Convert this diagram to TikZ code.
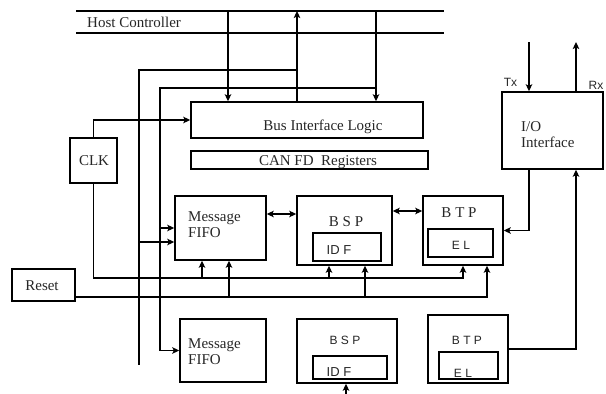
\documentclass[tikz,border=0pt]{standalone}
\usepackage{fontspec}
\setmainfont{Liberation Serif}
\newfontfamily\arialfam{Liberation Sans}
\usetikzlibrary{arrows.meta}
\begin{document}
\begin{tikzpicture}[x=1pt,y=-1pt,
  box/.style={draw,line width=1.5pt,inner sep=0pt},
  lbl/.style={inner sep=0pt,text=black!85,font=\fontsize{15}{16}\selectfont},
  slbl/.style={inner sep=0pt,text=black!85,font=\arialfam\fontsize{12}{14}\selectfont},
  wire/.style={line width=1.5pt},
  arr/.style={wire,-{Stealth[length=7pt,width=6.5pt,inset=1.5pt]}},
  darr/.style={wire,{Stealth[length=7pt,width=6.5pt,inset=1.5pt]}-{Stealth[length=7pt,width=6.5pt,inset=1.5pt]}}]
\useasboundingbox (0,0) rectangle (606,394);

% boxes
\node[box,minimum width=47pt,minimum height=45pt] (clk) at (93.5,160.5) {};
\node[box,minimum width=63pt,minimum height=32pt] (reset) at (43.5,285) {};
\node[box,minimum width=232pt,minimum height=36pt] (bil) at (307,120) {};
\node[box,minimum width=237pt,minimum height=18pt] (can) at (309.5,160) {};
\node[box,minimum width=91pt,minimum height=64pt] (fifo1) at (220.5,228) {};
\node[box,minimum width=95pt,minimum height=69pt] (bsp1) at (344.5,230.5) {};
\node[box,minimum width=68pt,minimum height=28pt] (idf1) at (347,247) {};
\node[box,minimum width=80pt,minimum height=69pt] (btp1) at (463,230.5) {};
\node[box,minimum width=65pt,minimum height=28pt] (el1) at (460.5,243) {};
\node[box,minimum width=101pt,minimum height=77pt] (io) at (552.5,130.5) {};
\node[box,minimum width=86pt,minimum height=63pt] (fifo2) at (223,350.5) {};
\node[box,minimum width=100pt,minimum height=64pt] (bsp2) at (347,351) {};
\node[box,minimum width=74pt,minimum height=23pt] (idf2) at (350,367.5) {};
\node[box,minimum width=80pt,minimum height=68pt] (btp2) at (468,349) {};
\node[box,minimum width=59pt,minimum height=27pt] (el2) at (468.5,365.5) {};

% texts
\node[lbl,anchor=west] (thc) at (87,22) {Host Controller};
\node[lbl] (tclk) at (94,161) {CLK};
\node[lbl] (treset) at (42,286) {Reset};
\node[lbl] (tbil) at (323,127) {Bus Interface Logic};
\node[lbl] (tcan) at (318,162) {CAN FD\ \ Registers};
\node[lbl,anchor=west,align=left] (tfifo1) at (188,225) {Message\\FIFO};
\node[lbl,anchor=west,align=left] (tfifo2) at (188,351.5) {Message\\FIFO};
\node[lbl] (tbsp1) at (346,222) {B S P};
\node[slbl,font=\arialfam\fontsize{13}{14}\selectfont] (tidf1) at (339,250) {ID F};
\node[lbl] (tbtp1) at (459,213) {B T P};
\node[slbl] (tel1) at (461,245) {E L};
\node[slbl] (tbsp2) at (345,340) {B S P};
\node[slbl,font=\arialfam\fontsize{13}{14}\selectfont] (tidf2) at (339,372) {ID F};
\node[slbl] (tbtp2) at (467,340) {B T P};
\node[slbl] (tel2) at (463,373) {E L};
\node[lbl,anchor=west,align=left] (tio) at (521,135) {I/O\\Interface};
\node[slbl] (ttx) at (510.5,82) {Tx};
\node[slbl] (trx) at (596,85) {Rx};

% host controller bus
\coordinate (hbTL) at (76,11);
\coordinate (hbTR) at (444,11);
\coordinate (hbBL) at (76,33);
\coordinate (hbBR) at (444,33);
\draw[wire] (hbTL) -- (hbTR);
\draw[wire] (hbBL) -- (hbBR);

\coordinate (h1) at (228,11);
\coordinate (h2) at (297,11);
\coordinate (h3) at (376,11);
\draw[arr] (h1) -- (h1 |- bil.north);
\draw[arr] (h2 |- bil.north) -- (h2);
\draw[arr] (h3) -- (h3 |- bil.north);

% vertical feeds
\coordinate (v1) at (139,70);
\coordinate (v1end) at (139,365);
\coordinate (v2) at (160,88);
\draw[wire] (h2 |- v1) -- (v1) -- (v1end);
\draw[arr] (h3 |- v2) -- (v2) |- (fifo2.west);
\draw[arr] (fifo1.west -| v2) -- (fifo1.west);
\draw[arr] ([yshift=-14pt]fifo1.west -| v1) -- ([yshift=-14pt]fifo1.west);

% clock
\draw[arr] (clk.north) |- (bil.west);
\coordinate (c1) at (463,278);
\coordinate (b1) at (202,278);
\coordinate (b2) at (329,278);
\draw[arr] (clk.south) |- (c1) -- (c1 |- btp1.south);
\draw[arr] (b1) -- (b1 |- fifo1.south);
\draw[arr] (b2) -- (b2 |- bsp1.south);

% reset
\coordinate (c2) at (487,297);
\coordinate (b3) at (229,297);
\coordinate (b4) at (365,297);
\draw[arr] (reset.east |- c2) -- (c2) -- (c2 |- btp1.south);
\draw[arr] (b3) -- (b3 |- fifo1.south);
\draw[arr] (b4) -- (b4 |- bsp1.south);

% double arrows
\draw[darr] ([yshift=14pt]fifo1.east) -- ([yshift=14pt]fifo1.east -| bsp1.west);
\draw[darr] ([yshift=19.5pt]bsp1.east) -- ([yshift=19.5pt]bsp1.east -| btp1.west);

% I/O interface
\coordinate (tx) at (529,42);
\coordinate (rx) at (576,42);
\draw[arr] (tx) -- (tx |- io.north);
\draw[arr] (rx |- io.north) -- (rx);
\draw[arr] (tx |- io.south) |- (btp1.east);
\draw[arr] (btp2.east) -| (rx |- io.south);

% bottom arrow into BSP2
\coordinate (bb) at (346,394);
\draw[arr] (bb) -- (bb |- bsp2.south);
\end{tikzpicture}
\end{document}
